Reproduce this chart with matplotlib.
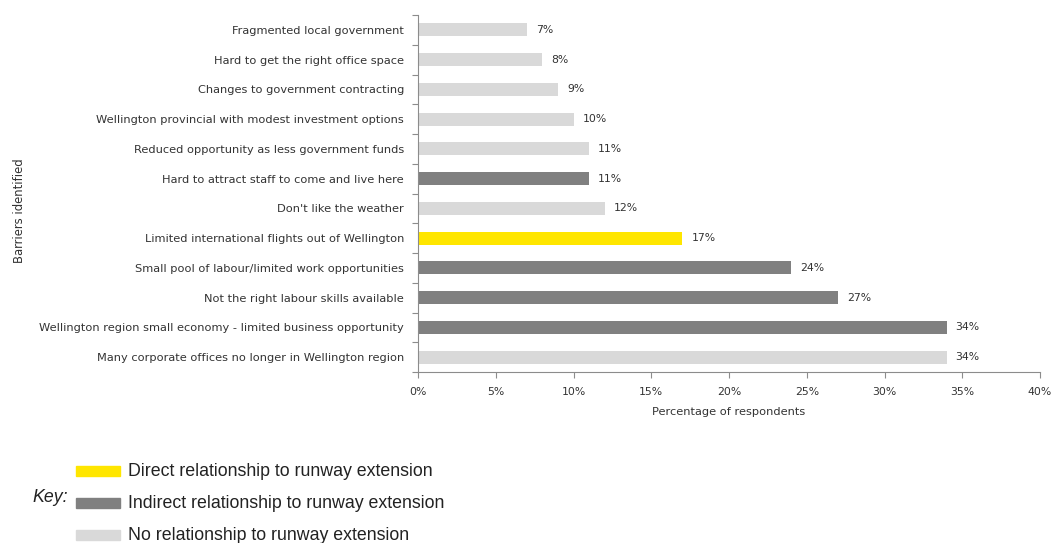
import matplotlib
matplotlib.use("Agg")
import matplotlib.pyplot as plt
from matplotlib.patches import Rectangle
from matplotlib.ticker import FixedLocator

# Barriers, listed top to bottom
barriers = [
    "Fragmented local government",
    "Hard to get the right office space",
    "Changes to government contracting",
    "Wellington provincial with modest investment options",
    "Reduced opportunity as less government funds",
    "Hard to attract staff to come and live here",
    "Don't like the weather",
    "Limited international flights out of Wellington",
    "Small pool of labour/limited work opportunities",
    "Not the right labour skills available",
    "Wellington region small economy - limited business opportunity",
    "Many corporate offices no longer in Wellington region",
]
percent = [7, 8, 9, 10, 11, 11, 12, 17, 24, 27, 34, 34]
relationship = ["none", "none", "none", "none", "none", "indirect",
                "none", "direct", "indirect", "indirect", "indirect", "none"]

x_ticks = [0, 5, 10, 15, 20, 25, 30, 35, 40]

colors = {"direct": "#FFE600", "indirect": "#808080", "none": "#D9D9D9"}
key_labels = [
    ("direct", "Direct relationship to runway extension"),
    ("indirect", "Indirect relationship to runway extension"),
    ("none", "No relationship to runway extension"),
]

text_color = "#333333"
axis_color = "#8C8C8C"

fig = plt.figure(figsize=(10.54, 5.43), dpi=100)
ax = fig.add_axes([418 / 1054, 1 - 372 / 543, (1040 - 418) / 1054, (372 - 15) / 543])

n = len(barriers)
ypos = list(range(n))
ax.barh(ypos, percent, height=0.44,
        color=[colors[r] for r in relationship], zorder=2)

for y, v in zip(ypos, percent):
    ax.annotate(f"{v}%", xy=(v, y), xytext=(9, 0), textcoords="offset pixels",
                va="center", ha="left", fontsize=7.8, color=text_color)

ax.set_ylim(n - 0.5, -0.5)
ax.set_xlim(0, 40)
ax.set_yticks(ypos)
ax.set_yticklabels(barriers, fontsize=8.2, color=text_color)
ax.yaxis.set_minor_locator(FixedLocator([i - 0.5 for i in range(n + 1)]))
ax.tick_params(axis="y", which="major", length=0, pad=10)
ax.tick_params(axis="y", which="minor", length=4, color=axis_color, width=0.8)
ax.set_xticks(x_ticks)
ax.set_xticklabels([f"{t}%" for t in x_ticks], fontsize=7.8, color=text_color)
ax.tick_params(axis="x", length=4, color=axis_color, width=0.8, pad=7)

for s in ["top", "right"]:
    ax.spines[s].set_visible(False)
for s in ["left", "bottom"]:
    ax.spines[s].set_color(axis_color)
    ax.spines[s].set_linewidth(0.8)

ax.set_xlabel("Percentage of respondents", fontsize=8.2, color=text_color, labelpad=7)
fig.text(20 / 1054, 1 - 211 / 543, "Barriers identified", rotation=90,
         ha="center", va="center", fontsize=8.4, color=text_color)

# Key
key_y = [471, 503, 535]
for (cat, label), yk in zip(key_labels, key_y):
    fig.patches.append(Rectangle((76 / 1054, 1 - (yk + 5) / 543), 44 / 1054, 10 / 543,
                                 transform=fig.transFigure, color=colors[cat]))
    fig.text(128 / 1054, 1 - yk / 543, label, ha="left", va="center",
             fontsize=12.8, family="Liberation Sans", color="#222222")
fig.text(32 / 1054, 1 - 498 / 543, "Key:", ha="left", va="center",
         fontsize=12.8, style="italic", family="Liberation Sans", color="#222222")

fig.savefig("out.png", dpi=100, facecolor="white")
